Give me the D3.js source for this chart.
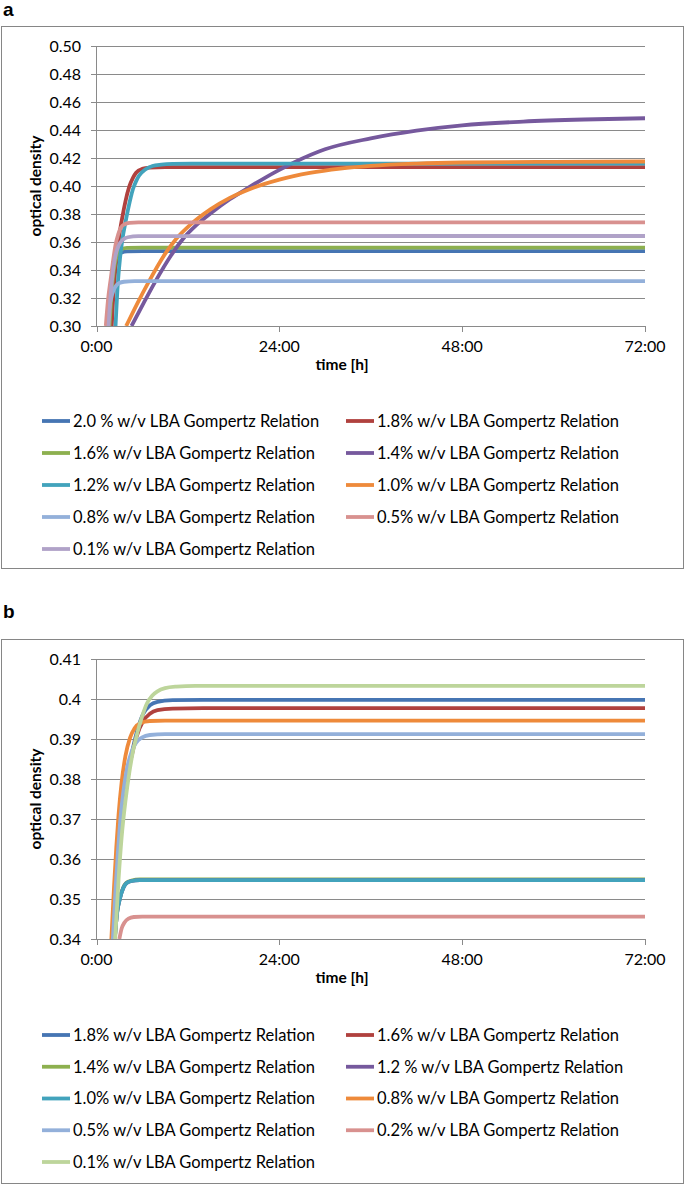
<!DOCTYPE html>
<html><head><meta charset="utf-8">
<script src="https://cdn.jsdelivr.net/npm/d3@7"></script>
<style>body{margin:0;background:#fff} svg{display:block}</style></head>
<body>
<svg id="c" width="685" height="1186"></svg>
<script>
// ---------- shared axis data ----------
const xTickValues = [0, 24, 48, 72];
const xTickLabels = ["0:00", "24:00", "48:00", "72:00"];
const yTicksA = [0.30, 0.32, 0.34, 0.36, 0.38, 0.40, 0.42, 0.44, 0.46, 0.48, 0.50];
const yTickLabelsA = ["0.30","0.32","0.34","0.36","0.38","0.40","0.42","0.44","0.46","0.48","0.50"];
const yTicksB = [0.34, 0.35, 0.36, 0.37, 0.38, 0.39, 0.40, 0.41];
const yTickLabelsB = ["0.34","0.35","0.36","0.37","0.38","0.39","0.4","0.41"];

// ---------- panel a series: [time h, optical density] ----------
const a_20 = [[1.7,0.30],[2.0,0.323],[2.3,0.338],[2.6,0.3465],[2.9,0.3505],[3.3,0.3525],[4,0.3533],[6,0.3535],[72,0.3535]];
const a_18 = [[2.0,0.30],[2.3,0.329],[2.6,0.347],[3.0,0.365],[3.4,0.378],[3.8,0.389],[4.3,0.3995],[4.8,0.406],[5.2,0.4095],[6,0.4122],[7,0.4131],[9,0.4135],[72,0.4135]];
const a_16 = [[1.7,0.30],[2.0,0.325],[2.3,0.341],[2.6,0.349],[2.9,0.353],[3.3,0.355],[4,0.3558],[6,0.356],[72,0.356]];
const a_14 = [[4.6,0.30],[6.2,0.3165],[7.7,0.3315],[9.8,0.3505],[11.4,0.3625],[13.1,0.372],[15,0.3805],[17.5,0.3905],[20,0.399],[22,0.4055],[24,0.4115],[26,0.417],[30,0.4262],[36,0.434],[42,0.4395],[48,0.4433],[56,0.446],[64,0.4475],[72,0.4484]];
const a_12 = [[2.5,0.30],[2.8,0.3305],[3.1,0.349],[3.4,0.362],[3.8,0.374],[4.15,0.3835],[4.5,0.392],[4.8,0.398],[5.2,0.4035],[5.6,0.4075],[6.4,0.4118],[7.35,0.4143],[8.5,0.4153],[10,0.4158],[14,0.416],[72,0.416]];
const a_10 = [[3.9,0.30],[5.3,0.3155],[6.8,0.331],[9.0,0.3515],[10.5,0.3625],[12.25,0.372],[15,0.3835],[17.5,0.3915],[20,0.3975],[24,0.4045],[28,0.4093],[32,0.4124],[36,0.4144],[42,0.416],[48,0.4168],[60,0.4173],[72,0.4175]];
const a_08 = [[1.4,0.30],[1.7,0.3135],[2.0,0.3215],[2.3,0.3262],[2.65,0.3293],[3.0,0.3307],[3.6,0.3316],[5,0.332],[72,0.332]];
const a_05 = [[1.22,0.30],[1.5,0.318],[1.9,0.335],[2.2,0.3475],[2.5,0.358],[2.85,0.3655],[3.2,0.3702],[3.7,0.3727],[4.3,0.3736],[5.5,0.374],[72,0.374]];
const a_01 = [[1.58,0.30],[1.9,0.325],[2.3,0.3445],[2.65,0.3535],[3.0,0.3585],[3.5,0.3618],[4.1,0.3634],[5.5,0.3642],[72,0.3643]];
const legendA = ["2.0 % w/v LBA Gompertz Relation","1.8% w/v LBA Gompertz Relation","1.6% w/v LBA Gompertz Relation","1.4% w/v LBA Gompertz Relation","1.2% w/v LBA Gompertz Relation","1.0% w/v LBA Gompertz Relation","0.8% w/v LBA Gompertz Relation","0.5% w/v LBA Gompertz Relation","0.1% w/v LBA Gompertz Relation"];

// ---------- panel b series ----------
const b_18 = [[2.3,0.34],[2.7,0.354],[3.1,0.365],[3.6,0.374],[4.1,0.381],[4.7,0.387],[5.3,0.3918],[6.1,0.3962],[7,0.3984],[8,0.3993],[10,0.3997],[14,0.3998],[72,0.3998]];
const b_16 = [[2.3,0.34],[2.7,0.354],[3.1,0.365],[3.6,0.374],[4.1,0.381],[4.7,0.3865],[5.3,0.3908],[6.1,0.3944],[7,0.3963],[8,0.3972],[10,0.3976],[14,0.3977],[72,0.3977]];
const b_14 = [[2.4,0.34],[2.7,0.3467],[3.06,0.3502],[3.5,0.3528],[3.9,0.354],[4.6,0.3546],[5.7,0.3549],[72,0.3549]];
const b_12 = [[2.4,0.34],[2.7,0.3465],[3.06,0.35],[3.5,0.3527],[3.9,0.3539],[4.6,0.3545],[5.7,0.3547],[72,0.3547]];
const b_10 = [[2.4,0.34],[2.7,0.3465],[3.06,0.35],[3.5,0.3527],[3.9,0.3539],[4.6,0.3545],[5.7,0.3547],[72,0.3547]];
const b_08 = [[1.95,0.34],[2.3,0.353],[2.6,0.363],[2.9,0.3712],[3.3,0.3792],[3.8,0.3858],[4.4,0.3903],[5.0,0.3927],[5.8,0.394],[7,0.3945],[9,0.3946],[72,0.3946]];
const b_05 = [[2.15,0.34],[2.5,0.3525],[2.8,0.3615],[3.1,0.3692],[3.5,0.3765],[4.0,0.3826],[4.6,0.3868],[5.2,0.3891],[6.0,0.3904],[7,0.391],[9,0.3912],[72,0.3912]];
const b_02 = [[3.0,0.34],[3.3,0.3426],[3.7,0.3442],[4.2,0.3451],[4.9,0.3455],[6,0.3456],[72,0.3456]];
const b_01 = [[2.45,0.34],[2.9,0.355],[3.3,0.3655],[3.8,0.3745],[4.3,0.3815],[4.8,0.387],[5.4,0.3918],[6.0,0.3957],[6.6,0.3988],[7.3,0.4008],[8,0.4019],[9,0.4027],[10.5,0.4031],[13,0.4033],[72,0.4033]];
const legendB = ["1.8% w/v LBA Gompertz Relation","1.6% w/v LBA Gompertz Relation","1.4% w/v LBA Gompertz Relation","1.2 % w/v LBA Gompertz Relation","1.0% w/v LBA Gompertz Relation","0.8% w/v LBA Gompertz Relation","0.5% w/v LBA Gompertz Relation","0.2% w/v LBA Gompertz Relation","0.1% w/v LBA Gompertz Relation"];

// ---------- styles ----------
const palette = ["#4675b3","#b0413e","#8db04f","#76599d","#42a3bc","#ee8a3b","#93b0da","#d8918f","#b0a2c8"];
const paletteB = ["#4675b3","#b0413e","#8db04f","#76599d","#42a3bc","#ee8a3b","#93b0da","#d8918f","#bdd59b"];

const svg = d3.select("#c");
const FONT = "Lato, 'Open Sans', sans-serif";
const GRID = "#8a8a8a";

function panel(cfg) {
  const g = svg.append("g");
  g.append("rect").attr("x", 1.5).attr("y", cfg.frameTop + 0.5)
    .attr("width", 682).attr("height", cfg.frameBottom - cfg.frameTop)
    .attr("fill", "none").attr("stroke", "#868686").attr("stroke-width", 1);
  g.append("text").attr("x", 3).attr("y", cfg.labelY)
    .attr("font-family", "'Liberation Sans', Arial, sans-serif").attr("font-weight", "bold")
    .attr("font-size", 19).text(cfg.label);

  const x = d3.scaleLinear().domain([0, 72]).range([96.5, 645]);
  const y = d3.scaleLinear().domain(cfg.yDomain).range([cfg.plotBottom, cfg.plotTop]);

  g.append("g").selectAll("line").data(cfg.yTicks).join("line")
    .attr("x1", 91).attr("x2", 645)
    .attr("y1", d => Math.round(y(d)) + 0.5).attr("y2", d => Math.round(y(d)) + 0.5)
    .attr("stroke", GRID).attr("stroke-width", 1);
  g.append("line").attr("x1", 96.5).attr("x2", 96.5)
    .attr("y1", cfg.plotTop).attr("y2", cfg.plotBottom + 0.5)
    .attr("stroke", GRID);
  g.append("g").selectAll("text").data(cfg.yTicks).join("text")
    .attr("x", 81).attr("y", d => y(d)).attr("dy", "0.36em")
    .attr("text-anchor", "end").attr("font-family", FONT).attr("font-size", 16)
    .attr("fill", "#000").text((d, i) => cfg.yLabels[i]);
  g.append("g").selectAll("line").data(xTickValues).join("line")
    .attr("x1", d => Math.round(x(d)) + 0.5).attr("x2", d => Math.round(x(d)) + 0.5)
    .attr("y1", cfg.plotBottom).attr("y2", cfg.plotBottom + 6)
    .attr("stroke", GRID);
  g.append("g").selectAll("text").data(xTickValues).join("text")
    .attr("x", d => x(d)).attr("y", cfg.plotBottom + 26)
    .attr("text-anchor", "middle").attr("font-family", FONT).attr("font-size", 16)
    .text((d, i) => xTickLabels[i]);
  g.append("text").attr("x", 342).attr("y", cfg.plotBottom + 44)
    .attr("text-anchor", "middle").attr("font-family", FONT).attr("font-weight", "bold")
    .attr("font-size", 15.5).text("time [h]");
  g.append("text").attr("transform", `translate(41,${(cfg.plotTop + cfg.plotBottom) / 2}) rotate(-90)`)
    .attr("text-anchor", "middle").attr("font-family", FONT).attr("font-weight", "bold")
    .attr("font-size", 15.5).text("optical density");

  const cid = "clip" + cfg.label;
  g.append("clipPath").attr("id", cid).append("rect")
    .attr("x", 96.5).attr("y", cfg.plotTop - 3).attr("width", 645 - 96.5 + 4)
    .attr("height", cfg.plotBottom - cfg.plotTop + 3);
  const line = d3.line().x(d => x(d[0])).y(d => y(d[1])).curve(d3.curveMonotoneX);
  g.append("g").attr("clip-path", `url(#${cid})`).selectAll("path").data(cfg.series).join("path")
    .attr("d", d => line(d)).attr("fill", "none")
    .attr("stroke", (d, i) => cfg.colors[i]).attr("stroke-width", 3.8)
    .attr("stroke-linejoin", "round");

  const lg = g.append("g");
  cfg.legend.forEach((name, i) => {
    const col = i % 2, row = Math.floor(i / 2);
    const lx = col === 0 ? 42 : 346;
    const ly = cfg.legendTop + row * cfg.legendStep;
    lg.append("line").attr("x1", lx).attr("x2", lx + 28).attr("y1", ly).attr("y2", ly)
      .attr("stroke", cfg.colors[i]).attr("stroke-width", 3.8);
    lg.append("text").attr("x", lx + 31).attr("y", ly).attr("dy", "0.36em")
      .attr("font-family", FONT).attr("font-size", 16.5).text(name);
  });
}

panel({
  label: "a", labelY: 16, frameTop: 26, frameBottom: 568,
  plotTop: 46, plotBottom: 326, yDomain: [0.30, 0.50],
  yTicks: yTicksA, yLabels: yTickLabelsA,
  series: [a_20, a_18, a_16, a_14, a_12, a_10, a_08, a_05, a_01],
  colors: palette, legend: legendA, legendTop: 421, legendStep: 32
});
panel({
  label: "b", labelY: 618, frameTop: 639, frameBottom: 1183,
  plotTop: 659, plotBottom: 939, yDomain: [0.34, 0.41],
  yTicks: yTicksB, yLabels: yTickLabelsB,
  series: [b_18, b_16, b_14, b_12, b_10, b_08, b_05, b_02, b_01],
  colors: paletteB, legend: legendB, legendTop: 1035, legendStep: 31.75
});
</script>
</body></html>
